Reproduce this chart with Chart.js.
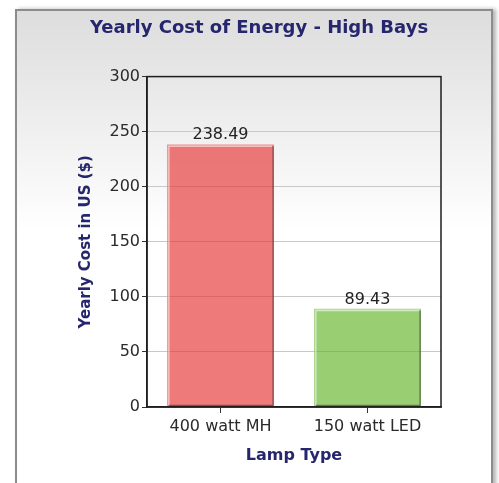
<!DOCTYPE html>
<html>
<head>
<meta charset="utf-8">
<script src="https://cdn.jsdelivr.net/npm/chart.js@4.4.1/dist/chart.umd.min.js"></script>
<style>
    html, body { margin: 0; padding: 0; background: #ffffff; overflow: hidden; }
    #frame {
        position: absolute;
        left: 15px;
        top: 9px;
        width: 474px;
        height: 500px;
        border: 2px solid #8c8c8c;
        background: linear-gradient(to bottom, #dddddd 0px, #ffffff 220px);
        box-shadow: 3px 0 4px rgba(0, 0, 0, 0.3);
    }
    #chart { position: absolute; left: 0; top: 0; }
</style>
</head>
<body>
<div id="frame"></div>
<canvas id="chart" width="499" height="483"></canvas>
<script>
const categories = ['400 watt MH', '150 watt LED'];
const yearlyCost = [238.49, 89.43];
const barColors = ['rgba(230, 50, 50, 0.65)', 'rgba(100, 180, 40, 0.65)'];
const yTicks = [0, 50, 100, 150, 200, 250, 300];

const navy = '#26266e';
const tickFont = { family: 'DejaVu Sans', size: 16 };

// full black box around the plot area
const plotBorder = {
    id: 'plotBorder',
    afterDraw(chart) {
        const { ctx, chartArea } = chart;
        ctx.save();
        ctx.strokeStyle = '#1e1e1e';
        ctx.lineWidth = 1.5;
        ctx.strokeRect(chartArea.left, chartArea.top, chartArea.right - chartArea.left, chartArea.bottom - chartArea.top);
        ctx.restore();
    }
};

// bevelled edges and value labels on the bars
const barDecor = {
    id: 'barDecor',
    afterDatasetsDraw(chart) {
        const { ctx } = chart;
        const meta = chart.getDatasetMeta(0);
        ctx.save();
        meta.data.forEach((bar, i) => {
            const left = bar.x - bar.width / 2;
            const right = bar.x + bar.width / 2;
            const top = bar.y;
            const bottom = bar.base;

            ctx.lineWidth = 1.5;
            ctx.strokeStyle = 'rgba(255, 255, 255, 0.55)';
            ctx.beginPath();
            ctx.moveTo(left + 2, bottom - 1);
            ctx.lineTo(left + 2, top + 2);
            ctx.lineTo(right - 2, top + 2);
            ctx.stroke();

            ctx.strokeStyle = 'rgba(0, 0, 0, 0.4)';
            ctx.beginPath();
            ctx.moveTo(right - 1, top + 2);
            ctx.lineTo(right - 1, bottom - 1);
            ctx.lineTo(left + 2, bottom - 1);
            ctx.stroke();

            ctx.fillStyle = '#222222';
            ctx.font = '16px "DejaVu Sans"';
            ctx.textAlign = 'center';
            ctx.textBaseline = 'bottom';
            ctx.fillText(yearlyCost[i].toFixed(2), bar.x, top - 1);
        });
        ctx.restore();
    }
};

const ctx = document.getElementById('chart').getContext('2d');

new Chart(ctx, {
    type: 'bar',
    data: {
        labels: categories,
        datasets: [{
            label: 'Yearly Cost',
            data: yearlyCost,
            backgroundColor: barColors,
            borderColor: ['rgba(240, 140, 140, 0.9)', 'rgba(160, 210, 120, 0.9)'],
            borderWidth: 1,
            barPercentage: 0.73,
            categoryPercentage: 1.0
        }]
    },
    options: {
        responsive: false,
        animation: false,
        devicePixelRatio: 1,
        layout: {
            padding: { left: 77, right: 58, top: 8, bottom: 18 }
        },
        plugins: {
            legend: { display: false },
            tooltip: { enabled: false },
            title: {
                display: true,
                text: 'Yearly Cost of Energy - High Bays',
                color: navy,
                font: { family: 'DejaVu Sans', size: 18, weight: 'bold' },
                padding: { top: 10, bottom: 37 }
            }
        },
        scales: {
            x: {
                afterFit(scale) { scale.height = 58; },
                grid: {
                    offset: false,
                    drawOnChartArea: false,
                    tickColor: '#333333',
                    tickLength: 6
                },
                border: { display: true, color: '#1e1e1e', width: 1.5 },
                ticks: { color: '#2a2a2a', font: tickFont, padding: 4 },
                title: {
                    display: true,
                    text: 'Lamp Type',
                    color: navy,
                    font: { family: 'DejaVu Sans', size: 16, weight: 'bold' },
                    padding: { top: 0, bottom: 0 }
                }
            },
            y: {
                min: 0,
                max: 300,
                afterFit(scale) { scale.width = 70; },
                afterBuildTicks(scale) { scale.ticks = yTicks.map(v => ({ value: v })); },
                grid: {
                    color: '#c8c8c8',
                    lineWidth: 1,
                    tickColor: '#333333',
                    tickLength: 5
                },
                border: { display: true, color: '#1e1e1e', width: 1.5 },
                ticks: { color: '#2a2a2a', font: tickFont, padding: 2 },
                title: {
                    display: true,
                    text: 'Yearly Cost in US ($)',
                    color: navy,
                    font: { family: 'DejaVu Sans', size: 15, weight: 'bold' },
                    padding: { top: 0, bottom: 0 }
                }
            }
        }
    },
    plugins: [plotBorder, barDecor]
});
</script>
</body>
</html>
